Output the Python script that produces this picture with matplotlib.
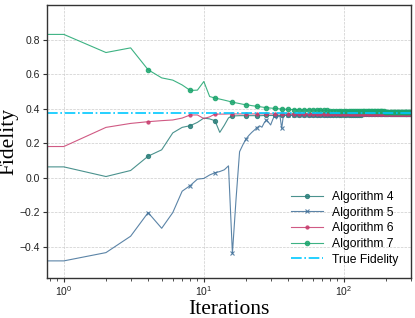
import matplotlib
matplotlib.use('Agg')
import matplotlib.pyplot as plt
import numpy as np

plt.rcParams['font.family'] = ['Liberation Sans', 'DejaVu Sans']
plt.rcParams['mathtext.default'] = 'regular'

# iterations: every step up to 40, then every 4th up to 300
iterations = list(range(0, 41)) + list(range(44, 301, 4))

true_fidelity = 0.372

alg4_head = [0.062, 0.062, 0.006, 0.041, 0.124, 0.161, 0.259, 0.291, 0.301, 0.320,
             0.345, 0.340, 0.330, 0.262, 0.303, 0.346, 0.358, 0.358, 0.359, 0.359,
             0.359, 0.359, 0.359, 0.359, 0.359, 0.359, 0.359, 0.360, 0.360, 0.360,
             0.360, 0.360, 0.360, 0.360, 0.360, 0.360, 0.360, 0.361, 0.361, 0.361,
             0.361]
alg4_tail = [0.361, 0.361, 0.362, 0.362, 0.362, 0.363, 0.363, 0.363, 0.363, 0.364,
             0.364, 0.364, 0.364, 0.364, 0.365, 0.365, 0.365, 0.365, 0.365, 0.365,
             0.365, 0.365, 0.365, 0.366, 0.366, 0.366, 0.366, 0.366, 0.366, 0.366,
             0.366, 0.366, 0.366, 0.366, 0.366, 0.366, 0.366, 0.366, 0.366, 0.366,
             0.366, 0.366, 0.366, 0.366, 0.366, 0.366, 0.366, 0.366, 0.366, 0.366,
             0.366, 0.366, 0.366, 0.366, 0.366, 0.366, 0.366, 0.366, 0.366, 0.366,
             0.366, 0.366, 0.366, 0.366, 0.366]

alg5_head = [-0.483, -0.483, -0.435, -0.340, -0.203, -0.294, -0.203, -0.079, -0.046, -0.009,
             -0.005, 0.015, 0.028, 0.035, 0.045, 0.068, -0.440, -0.120, 0.150, 0.190,
             0.224, 0.245, 0.262, 0.276, 0.290, 0.300, 0.292, 0.318, 0.334, 0.320,
             0.305, 0.335, 0.360, 0.340, 0.355, 0.355, 0.285, 0.362, 0.362, 0.362,
             0.363]
alg5_tail = [0.363, 0.363, 0.364, 0.364, 0.364, 0.365, 0.365, 0.365, 0.365, 0.365,
             0.366, 0.366, 0.366, 0.366, 0.366, 0.366, 0.366, 0.367, 0.367, 0.367,
             0.367, 0.367, 0.367, 0.367, 0.367, 0.367, 0.367, 0.367, 0.367, 0.367,
             0.367, 0.367, 0.367, 0.367, 0.367, 0.367, 0.367, 0.367, 0.367, 0.367,
             0.367, 0.367, 0.367, 0.367, 0.367, 0.367, 0.367, 0.367, 0.367, 0.367,
             0.367, 0.367, 0.367, 0.367, 0.367, 0.367, 0.367, 0.367, 0.367, 0.367,
             0.367, 0.367, 0.367, 0.367, 0.367]

alg6_head = [0.180, 0.180, 0.291, 0.314, 0.324, 0.330, 0.334, 0.345, 0.363, 0.363,
             0.342, 0.352, 0.368, 0.368, 0.368, 0.369, 0.369, 0.369, 0.369, 0.369,
             0.369, 0.369, 0.369, 0.369, 0.369, 0.369, 0.369, 0.369, 0.369, 0.369,
             0.369, 0.369, 0.369, 0.369, 0.369, 0.369, 0.369, 0.369, 0.369, 0.369,
             0.369]
alg6_tail = [0.369, 0.369, 0.369, 0.369, 0.369, 0.369, 0.369, 0.369, 0.369, 0.369,
             0.369, 0.369, 0.369, 0.369, 0.369, 0.369, 0.369, 0.369, 0.369, 0.369,
             0.369, 0.369, 0.369, 0.369, 0.369, 0.369, 0.369, 0.369, 0.369, 0.369,
             0.369, 0.369, 0.369, 0.369, 0.369, 0.369, 0.369, 0.369, 0.369, 0.369,
             0.369, 0.369, 0.369, 0.369, 0.369, 0.369, 0.369, 0.369, 0.369, 0.369,
             0.369, 0.369, 0.369, 0.369, 0.369, 0.369, 0.369, 0.369, 0.369, 0.369,
             0.369, 0.369, 0.369, 0.369, 0.369]

alg7_head = [0.830, 0.830, 0.725, 0.752, 0.625, 0.578, 0.565, 0.537, 0.505, 0.507,
             0.557, 0.470, 0.461, 0.455, 0.449, 0.443, 0.437, 0.433, 0.429, 0.425,
             0.422, 0.420, 0.417, 0.415, 0.413, 0.411, 0.409, 0.407, 0.405, 0.404,
             0.403, 0.402, 0.401, 0.400, 0.399, 0.398, 0.397, 0.397, 0.396, 0.396,
             0.395]
alg7_tail = [0.394, 0.393, 0.392, 0.392, 0.391, 0.390, 0.390, 0.389, 0.389, 0.388,
             0.388, 0.388, 0.387, 0.387, 0.387, 0.387, 0.386, 0.386, 0.386, 0.386,
             0.386, 0.385, 0.385, 0.385, 0.385, 0.385, 0.385, 0.384, 0.384, 0.384,
             0.384, 0.384, 0.384, 0.384, 0.386, 0.384, 0.384, 0.384, 0.383, 0.383,
             0.383, 0.383, 0.383, 0.383, 0.383, 0.383, 0.383, 0.383, 0.383, 0.383,
             0.383, 0.383, 0.383, 0.383, 0.383, 0.383, 0.383, 0.383, 0.383, 0.383,
             0.383, 0.383, 0.383, 0.383, 0.383]

series = [
    ('Algorithm 4', alg4_head + alg4_tail, '#2b7f7a', 'o', 3.0),
    ('Algorithm 5', alg5_head + alg5_tail, '#3f6f98', 'x', 3.5),
    ('Algorithm 6', alg6_head + alg6_tail, '#c83d6e', 'o', 2.3),
    ('Algorithm 7', alg7_head + alg7_tail, '#1ba56d', 'o', 3.2),
]

iters = np.array(iterations)
marks = list(np.where(iters % 4 == 0)[0])

fig = plt.figure(figsize=(4.15, 3.18), dpi=100)
ax = fig.add_axes([0.113, 0.127, 0.877, 0.857])

for name, values, color, marker, ms in series:
    ax.plot(iters, values, color=color, lw=0.8, alpha=0.85, marker=marker,
            ms=ms, mew=0.8, markevery=marks, label=name)

ax.axhline(true_fidelity, color='#00c8ff', lw=1.2, ls='-.', label='True Fidelity')

ax.set_xscale('log')
ax.set_xlim(0.757, 301)
ax.set_ylim(-0.58, 1.0)
ax.set_yticks([-0.4, -0.2, 0.0, 0.2, 0.4, 0.6, 0.8])

ax.grid(True, which='major', ls='--', lw=0.5, color='#cccccc')
for sp in ax.spines.values():
    sp.set_color('#333333')
    sp.set_linewidth(1.0)
ax.tick_params(axis='both', which='major', labelsize=7.5, length=3, width=0.8,
               color='#333333', labelcolor='#222222', pad=2)
ax.tick_params(axis='x', which='minor', length=2, width=0.6, color='#333333')

ax.set_xlabel('Iterations', fontfamily='Liberation Serif', fontsize=15.5, labelpad=1)
ax.set_ylabel('Fidelity', fontfamily='Liberation Serif', fontsize=15.5, labelpad=1)

ax.legend(loc='lower right', frameon=False, fontsize=8.7, handlelength=2.6,
          labelspacing=0.3, borderaxespad=0.6)

fig.savefig('out.png', dpi=100)
